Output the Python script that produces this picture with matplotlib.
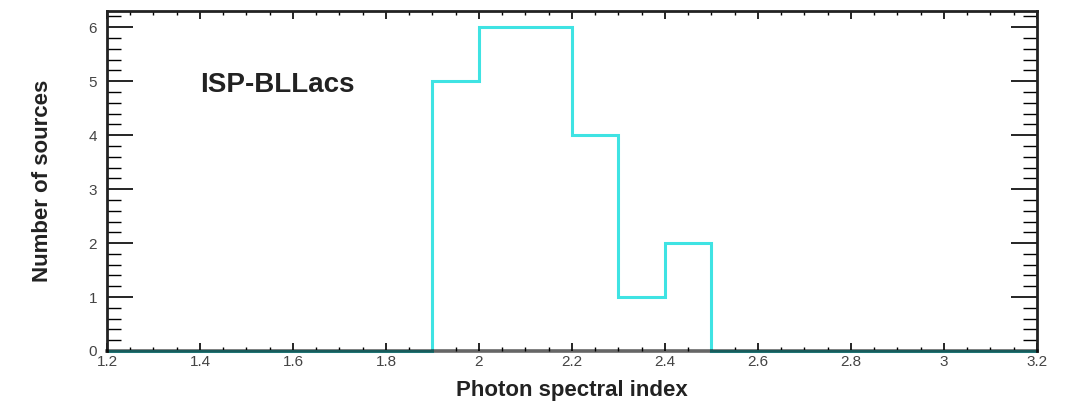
import matplotlib
matplotlib.use('Agg')
import matplotlib.pyplot as plt
import numpy as np
from matplotlib.ticker import MultipleLocator

# Histogram of photon spectral index (bin width 0.1 from 1.2 to 3.2)
bin_edges = np.round(np.arange(1.2, 3.21, 0.1), 2)
counts = [0, 0, 0, 0, 0, 0, 0, 5, 6, 6, 4, 1, 2, 0, 0, 0, 0, 0, 0, 0]
label_text = 'ISP-BLLacs'

plt.rcParams['font.family'] = ['Liberation Sans', 'DejaVu Sans']

fig = plt.figure(figsize=(10.74, 4.11), dpi=100)
ax = fig.add_axes([0.0996, 0.146, 0.8659, 0.827])

ax.stairs(counts, bin_edges, color='#3fe3e3', linewidth=2.2, zorder=2, clip_on=False)

ax.set_xlim(1.2, 3.2)
ax.set_ylim(0, 6.3)

ax.xaxis.set_major_locator(MultipleLocator(0.2))
ax.xaxis.set_minor_locator(MultipleLocator(0.05))
ax.yaxis.set_major_locator(MultipleLocator(1))
ax.yaxis.set_minor_locator(MultipleLocator(0.2))
ax.xaxis.set_major_formatter(plt.FuncFormatter(lambda v, p: f'{v:g}'))

ax.tick_params(axis='x', which='major', direction='in', length=6, width=1.2,
               top=True, labelsize=11, labelcolor='#444444', pad=3)
ax.tick_params(axis='x', which='minor', direction='in', length=3, width=1.0, top=True)
ax.tick_params(axis='y', which='major', direction='in', length=19, width=1.2,
               right=True, labelsize=11, labelcolor='#444444', pad=7)
ax.tick_params(axis='y', which='minor', direction='in', length=10, width=1.0, right=True)

for side in ['top', 'left', 'right']:
    ax.spines[side].set_linewidth(2)
    ax.spines[side].set_color('#222222')
ax.spines['bottom'].set_linewidth(2.6)
ax.spines['bottom'].set_color('black')
ax.spines['bottom'].set_alpha(0.6)

ax.set_xlabel('Photon spectral index', fontsize=16, fontweight='bold', color='#222222', labelpad=8)
ax.set_ylabel('Number of sources', fontsize=16, fontweight='bold', color='#222222', labelpad=26)

ax.text(1.40, 4.93, label_text, fontsize=20, fontweight='bold', color='#222222',
        ha='left', va='center')

fig.savefig('out.png', dpi=100)
